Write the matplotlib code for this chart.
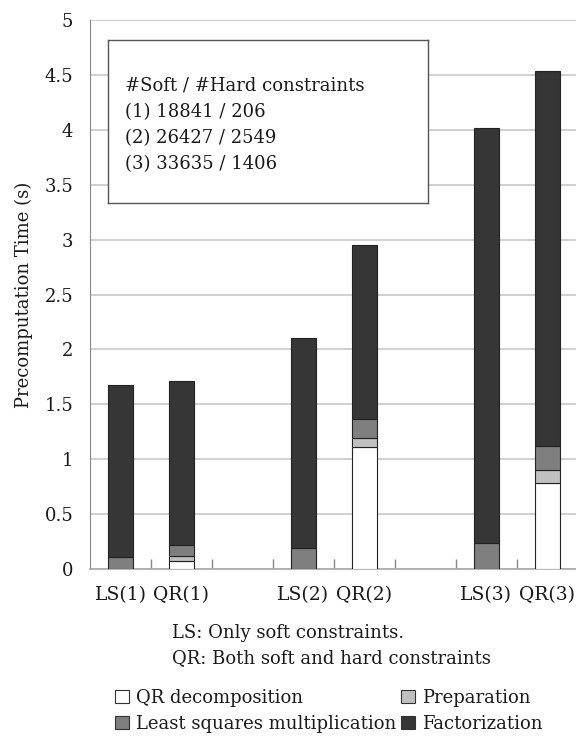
import matplotlib
matplotlib.use("Agg")
import matplotlib.pyplot as plt
from matplotlib.patches import Patch
import numpy as np

categories = ["LS(1)", "QR(1)", "", "LS(2)", "QR(2)", "", "LS(3)", "QR(3)"]
qr_decomp = [0.0, 0.07, 0.0, 0.0, 1.11, 0.0, 0.0, 0.78]
preparation = [0.0, 0.05, 0.0, 0.0, 0.08, 0.0, 0.0, 0.12]
ls_mult = [0.11, 0.10, 0.0, 0.19, 0.18, 0.0, 0.24, 0.22]
totals = [1.68, 1.71, 0.0, 2.10, 2.95, 0.0, 4.02, 4.54]
factorization = [t - a - b - c if t > 0 else 0.0 for t, a, b, c in zip(totals, qr_decomp, preparation, ls_mult)]

series_names = ["QR decomposition", "Preparation", "Least squares multiplication", "Factorization"]
series_colors = ["#ffffff", "#c0c0c0", "#7f7f7f", "#363636"]

info_lines = ["#Soft / #Hard constraints", "(1) 18841 / 206", "(2) 26427 / 2549", "(3) 33635 / 1406"]
notes = ["LS: Only soft constraints.", "QR: Both soft and hard constraints"]

plt.rcParams['font.family'] = ['DejaVu Serif']
fs = 13
tc = "#1a1a1a"

fig = plt.figure(figsize=(5.76, 7.36), dpi=100)
ax = fig.add_axes([90/576, (736-569)/736, 1 - 90/576, (569-20)/736])

x = np.arange(len(categories))
mask = np.array(totals) > 0
width = 0.42
bottom = np.zeros(len(categories))
data = [qr_decomp, preparation, ls_mult, factorization]
for vals, col in zip(data, series_colors):
    v = np.array(vals)
    sel = mask & (v > 0)
    ax.bar(x[sel], v[sel], width, bottom=bottom[sel], color=col,
           edgecolor="#222222", linewidth=0.8, zorder=3)
    bottom += v

ax.set_xlim(-0.5, 7.47)
ax.set_ylim(0, 5)
ax.set_yticks(np.arange(0, 5.01, 0.5))
ax.set_yticklabels(["0", "0.5", "1", "1.5", "2", "2.5", "3", "3.5", "4", "4.5", "5"], fontsize=fs, color=tc)
ax.yaxis.grid(True, color="#c8c8c8", linewidth=1.2, zorder=0)
ax.tick_params(axis="y", length=0, pad=12)

ax.set_xticks(x)
ax.set_xticklabels([c for c in categories], fontsize=13.5, color=tc)
ax.tick_params(axis="x", which="major", length=0, pad=12)
ax.set_xticks(np.arange(0.5, 7.0, 1.0), minor=True)
ax.tick_params(axis="x", which="minor", direction="in", length=7, color="#888888", width=1)

for s in ["top", "right"]:
    ax.spines[s].set_visible(False)
ax.spines["left"].set_color("#888888")
ax.spines["bottom"].set_color("#aaaaaa")
ax.spines["bottom"].set_linewidth(1.2)

ax.set_ylabel("Precomputation Time (s)", fontsize=fs, labelpad=8, color=tc)

# inset info box
box_ax = fig.add_axes([108/576, 1 - 203/736, (428-108)/576, (203-40)/736])
box_ax.set_xticks([]); box_ax.set_yticks([])
for s in box_ax.spines.values():
    s.set_color("#555555"); s.set_linewidth(1.0)
for i, line in enumerate(info_lines):
    box_ax.text(17/320, 1 - (46 + 26*i)/163, line, fontsize=fs, va="center", ha="left",
                transform=box_ax.transAxes, color=tc)

for i, n in enumerate(notes):
    fig.text(172/576, 1 - (633 + 25*i)/736, n, fontsize=fs, va="center", ha="left", color=tc)

handles = [Patch(facecolor=c, edgecolor="#333333", linewidth=0.8) for c in series_colors]
order = [0, 2, 1, 3]
leg = fig.legend([handles[i] for i in order], [series_names[i] for i in order],
                 ncol=2, loc="upper left", bbox_to_anchor=(106/576, 1 - 680/736),
                 frameon=False, fontsize=fs, handlelength=0.75, handleheight=0.75,
                 handletextpad=0.4, columnspacing=0.3, labelspacing=0.45, borderpad=0)
for t in leg.get_texts():
    t.set_color(tc)

fig.savefig("out.png", dpi=100)
